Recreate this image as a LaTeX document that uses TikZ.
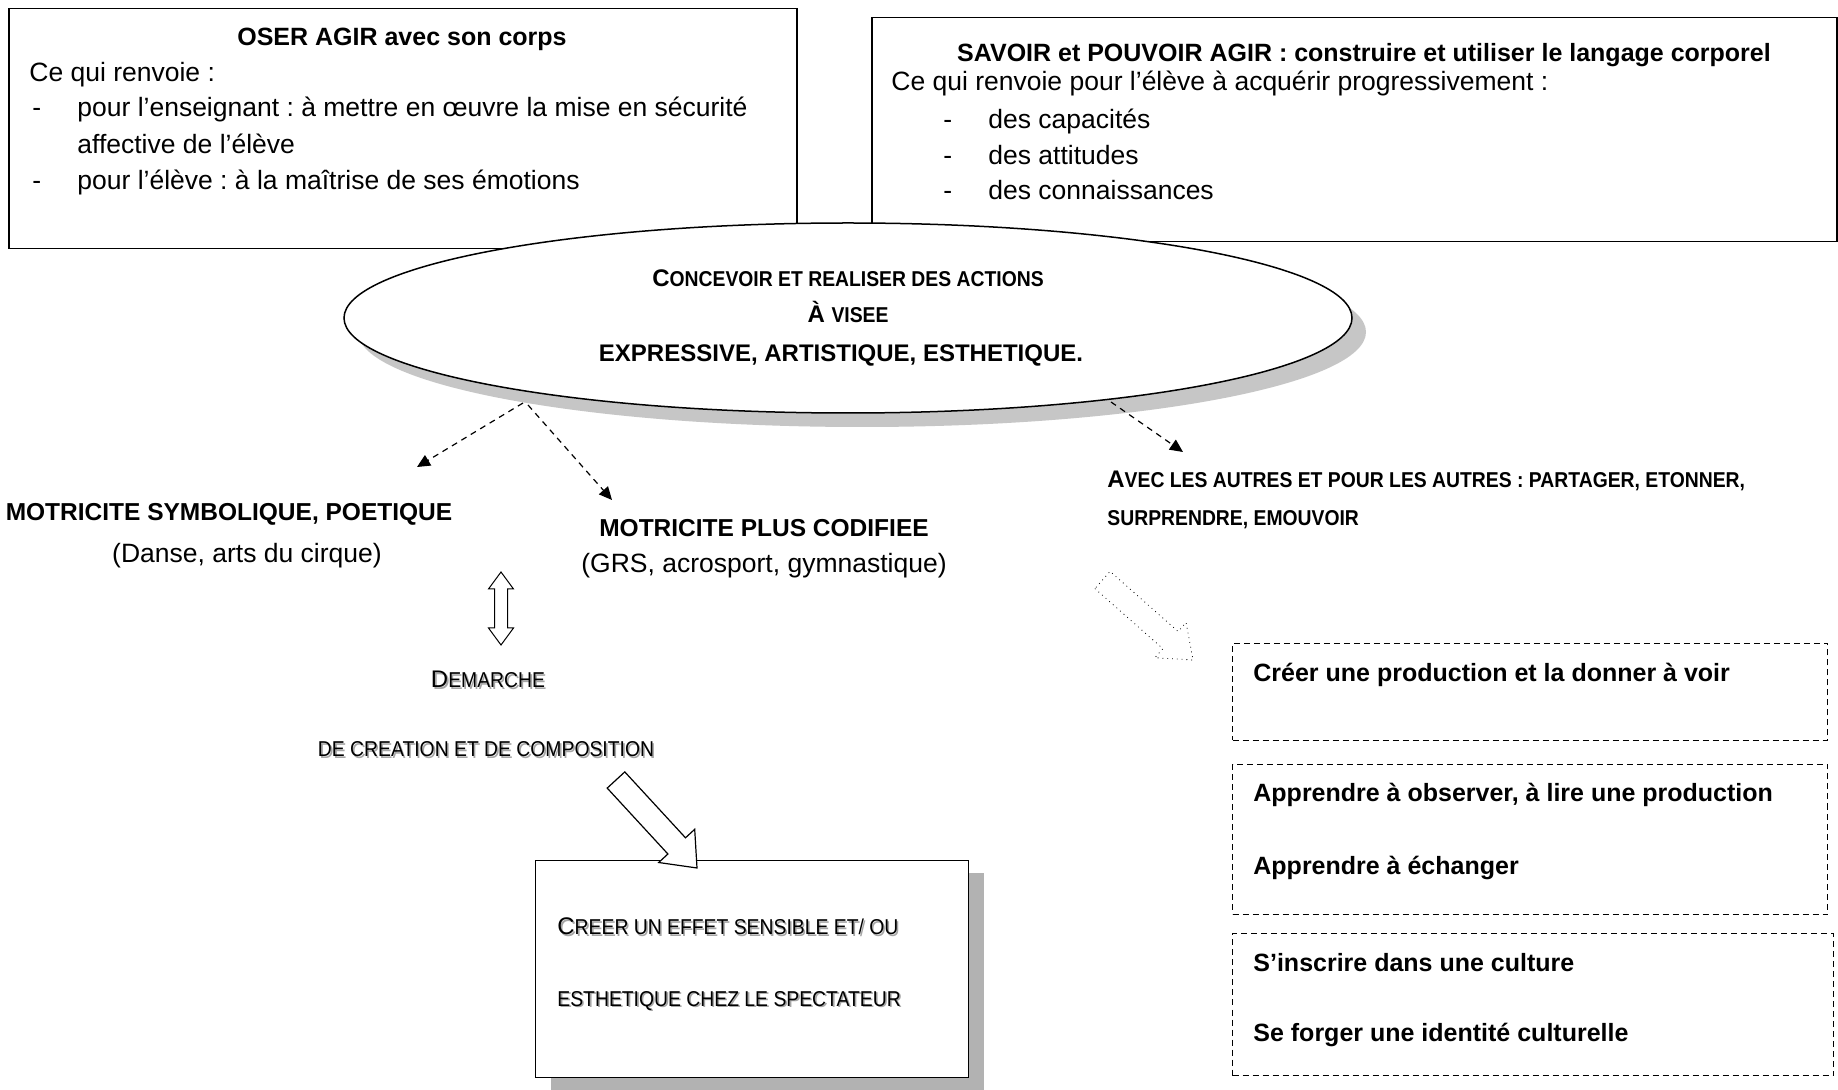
\documentclass[tikz,border=0pt]{standalone}
\usepackage{fontspec}
\setmainfont{Liberation Sans}
\newfontfamily\etroite{Liberation Sans}[FakeStretch=0.9]
\usetikzlibrary{arrows.meta,shapes.geometric}
\frenchspacing

% small capitals made by hand
\newcommand{\petit}[1]{{\etroite\fontsize{10.75pt}{12pt}\selectfont #1}}
% grey shadow behind a text
\newcommand{\ombre}[1]{\rlap{\kern0.8pt\raisebox{-0.8pt}{\color{gray!70}#1}}#1}

\tikzset{
  boite/.style={draw, line width=0.75pt, inner sep=0pt},
  tirets/.style={draw, line width=0.5pt, dash pattern=on 3pt off 2pt, inner sep=0pt},
  texte/.style={inner sep=0pt, font=\fontsize{13.25pt}{16pt}\selectfont},
  gras/.style={inner sep=0pt, font=\fontsize{12.5pt}{15pt}\selectfont\bfseries},
  majgras/.style={inner sep=0pt, font=\fontsize{12pt}{14pt}\selectfont\bfseries},
  maj/.style={inner sep=0pt, font=\fontsize{12pt}{14pt}\selectfont},
  fleche/.style={line width=0.6pt, dash pattern=on 3pt off 2.5pt, -{Triangle[length=6.5pt,width=6pt]}}
}

\begin{document}
\begin{tikzpicture}[x=0.5pt, y=-0.5pt]

  % Page
  \fill[white] (0,0) rectangle (1838,1090);
  \useasboundingbox (0,0) rectangle (1838,1090);

  % Draw the two boxes at the top
  \node[boite, anchor=north west, minimum width=394pt, minimum height=120pt] (oser) at (8,8) {};
  \node[boite, anchor=north west, minimum width=482.5pt, minimum height=112pt] (savoir) at (871,17) {};

  % Texts of the left box
  \node[gras, anchor=base] (titreoser) at (402,46) {OSER AGIR avec son corps};
  \node[texte, anchor=base west] (ceoser) at (29,82) {Ce qui renvoie :};
  \node[texte, anchor=base west] (tiret1) at (32,117) {-};
  \node[texte, anchor=base west] (ens1) at (77,117) {pour l’enseignant : à mettre en œuvre la mise en sécurité};
  \node[texte, anchor=base west] (ens2) at (77,154) {affective de l’élève};
  \node[texte, anchor=base west] (tiret2) at (32,190) {-};
  \node[texte, anchor=base west] (eleve) at (77,190) {pour l’élève : à la maîtrise de ses émotions};

  % Texts of the right box
  \node[gras, anchor=base] (titresavoir) at (1364,62) {SAVOIR et POUVOIR AGIR : construire et utiliser le langage corporel};
  \node[texte, anchor=base west] (cesavoir) at (891,91) {Ce qui renvoie pour l’élève à acquérir progressivement :};
  \foreach \y/\mot in {129/des capacités, 165/des attitudes, 200/des connaissances}{
    \node[texte, anchor=base west] (tiret\y) at (943,\y) {-};
    \node[texte, anchor=base west] (item\y) at (988,\y) {\mot};
  }

  % Draw the ellipse and its shadow
  \node[ellipse, fill=gray!45, minimum width=504pt, minimum height=95pt, inner sep=0pt] (ombreell) at (862,332) {};
  \node[ellipse, draw, fill=white, line width=0.75pt, minimum width=504pt, minimum height=95pt, inner sep=0pt] (ell) at (848,318) {};
  \node[majgras, anchor=base] (ell1) at (848,287) {C\petit{ONCEVOIR ET REALISER DES ACTIONS}};
  \node[majgras, anchor=base] (ell2) at (848,323) {À \petit{VISEE}};
  \node[majgras, anchor=base] (ell3) at (841,362) {EXPRESSIVE, ARTISTIQUE, ESTHETIQUE.};

  % Ends of the dashed arrows
  \coordinate (e1) at (523,403);
  \coordinate (f1) at (417,467);
  \coordinate (e2) at (528,405);
  \coordinate (f2) at (612,500);
  \coordinate (e3) at (1111,402);
  \coordinate (f3) at (1183,452);
  \draw[fleche] (e1) -- (f1);
  \draw[fleche] (e2) -- (f2);
  \draw[fleche] (e3) -- (f3);

  % The two kinds of motricity
  \node[gras, font=\fontsize{12.25pt}{15pt}\selectfont\bfseries, anchor=base] (symbolique) at (229,521) {MOTRICITE SYMBOLIQUE, POETIQUE};
  \node[texte, anchor=base] (danse) at (247,563) {(Danse, arts du cirque)};
  \node[gras, font=\fontsize{12.25pt}{15pt}\selectfont\bfseries, anchor=base] (codifiee) at (764,537) {MOTRICITE PLUS CODIFIEE};
  \node[texte, anchor=base] (grs) at (764,573) {(GRS, acrosport, gymnastique)};

  % Open double arrow
  \draw[fill=white, line width=0.5pt] (501,572) -- (513.5,589) -- (507.5,589) -- (507.5,628) -- (513.5,628)
    -- (501,645) -- (488.5,628) -- (494.5,628) -- (494.5,589) -- (488.5,589) -- cycle;

  % Demarche
  \node[maj, anchor=base] (demarche) at (488,688) {\ombre{D\petit{EMARCHE}}};
  \node[maj, anchor=base] (creation) at (486,757) {\ombre{\petit{DE CREATION ET DE COMPOSITION}}};

  % Box at the bottom with its shadow
  \fill[gray!60] (551,873) rectangle (984,1090);
  \node[boite, fill=white, line width=0.6pt, anchor=north west, minimum width=216.5pt, minimum height=108.5pt] (effet) at (535,860) {};
  \node[maj, anchor=base west] (effet1) at (557,935) {\ombre{C\petit{REER UN EFFET SENSIBLE ET/ OU}}};
  \node[maj, anchor=base west] (effet2) at (557,1006) {\ombre{\petit{ESTHETIQUE CHEZ LE SPECTATEUR}}};

  % Big open arrow towards the box
  \draw[fill=white, line width=0.6pt] (607.2,788.1) -- (667.9,854.0) -- (658.7,862.5) -- (697,868)
    -- (694.7,829.3) -- (685.5,837.8) -- (624.8,771.9) -- cycle;

  % With the others
  \node[majgras, anchor=base west] (avec) at (1107,488) {A\petit{VEC LES AUTRES ET POUR LES AUTRES : PARTAGER, ETONNER,}};
  \node[majgras, anchor=base west] (surprendre) at (1107,526) {\petit{SURPRENDRE, EMOUVOIR}};

  % Dotted open arrow
  \draw[dotted, line width=0.4pt] (1094.9,588.6) -- (1162.9,648.7) -- (1154.9,657.7) -- (1193,660)
    -- (1186.1,622.5) -- (1178.1,631.5) -- (1110.1,571.4) -- cycle;

  % Dashed boxes on the right
  \node[tirets, anchor=north west, minimum width=297.5pt, minimum height=48.5pt] (creer) at (1232,643) {};
  \node[tirets, anchor=north west, minimum width=297.5pt, minimum height=75pt] (apprendre) at (1232,764) {};
  \node[tirets, anchor=north west, minimum width=300.5pt, minimum height=71pt] (culture) at (1232,933) {};
  \node[gras, anchor=base west] (creer1) at (1253,682) {Créer une production et la donner à voir};
  \node[gras, anchor=base west] (apprendre1) at (1253,802) {Apprendre à observer, à lire une production};
  \node[gras, anchor=base west] (apprendre2) at (1253,874) {Apprendre à échanger};
  \node[gras, anchor=base west] (culture1) at (1253,971) {S’inscrire dans une culture};
  \node[gras, anchor=base west] (culture2) at (1253,1041) {Se forger une identité culturelle};

\end{tikzpicture}
\end{document}
